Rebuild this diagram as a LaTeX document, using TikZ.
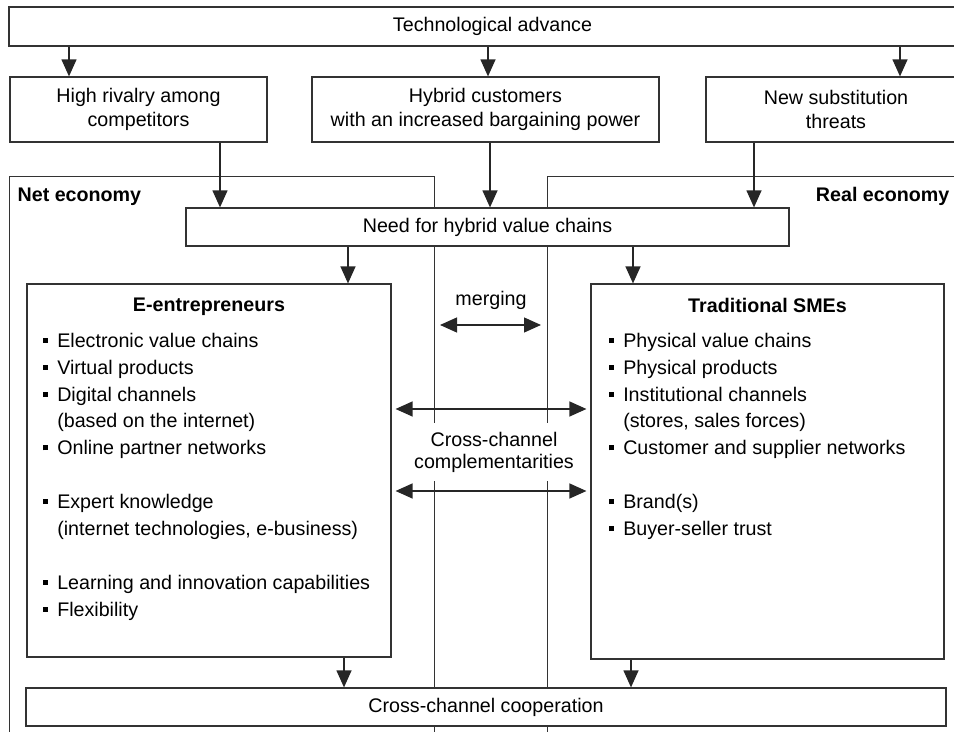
\documentclass[tikz,border=0pt]{standalone}
\usepackage{fontspec}
\setmainfont{Liberation Sans}
\usetikzlibrary{arrows.meta,positioning}

\newcommand{\blt}{\rule[2.5pt]{2.9pt}{2.9pt}\hspace{5.2pt}}
\newcommand{\hang}{\hphantom{\blt}}

\begin{document}
\begin{tikzpicture}[x=0.02cm,y=-0.02cm,line width=0.7pt,
  every node/.style={font=\fontsize{11.2}{13.5}\selectfont},
  box/.style={draw=black!80,fill=white,align=center,inner sep=0pt},
  area/.style={draw=black!80,inner sep=0pt,anchor=north west},
  ttl/.style={font=\fontsize{11.2}{13.5}\selectfont\bfseries,inner sep=0pt},
  lst/.style={align=left,inner sep=0pt,anchor=north west,font=\fontsize{11.2}{15.3}\selectfont},
  arr/.style={draw=black!85,-{Triangle[length=0.34cm,width=0.3cm]}},
  dbl/.style={draw=black!85,{Triangle[length=0.34cm,width=0.3cm]}-{Triangle[length=0.34cm,width=0.3cm]}}]
  \useasboundingbox (0,0) rectangle (954,732);
  \clip (0,0) rectangle (954,732);

  % the two economies
  \node[area,minimum width=8.5cm,minimum height=11.68cm] (net) at (9,176) {};
  \node[area,minimum width=8.67cm,minimum height=11.68cm] (real) at (546.5,176) {};
  \node[ttl,anchor=west] at ([shift={(8,21)}]net.north west) {Net economy};
  \node[ttl,anchor=east] at (950,196) {Real economy};

  % forces
  \node[box,minimum width=19.34cm,minimum height=0.78cm] (tech) at (492.5,26.5) {Technological advance};
  \node[box,minimum width=5.14cm,minimum height=1.3cm] (rival) at (138.5,109.5) {High rivalry among\\competitors};
  \node[box,minimum width=6.94cm,minimum height=1.3cm] (hybrid) at (485.5,109.5) {Hybrid customers\\with an increased bargaining power};
  \node[box,minimum width=5.2cm,minimum height=1.3cm] (threat) at (836,109.5) {New substitution\\threats};
  \node[box,minimum width=12.06cm,minimum height=0.76cm] (need) at (487.5,227) {Need for hybrid value chains};

  % the two kinds of firms
  \node[box,minimum width=7.28cm,minimum height=7.46cm] (eent) at (209,470.5) {};
  \node[ttl,below=0.28cm of eent.north] (eentT) {E-entrepreneurs};
  \node[lst] (eentL) at ([shift={(16,49)}]eent.north west) {%
    \blt Electronic value chains\\
    \blt Virtual products\\
    \blt Digital channels\\
    \hang (based on the internet)\\
    \blt Online partner networks\\[15.3pt]
    \blt Expert knowledge\\
    \hang (internet technologies, e-business)\\[15.3pt]
    \blt Learning and innovation capabilities\\
    \blt Flexibility};

  \node[box,minimum width=7.06cm,minimum height=7.5cm] (trad) at (767.5,471.5) {};
  \node[ttl,below=0.28cm of trad.north] (tradT) {Traditional SMEs};
  \node[lst] (tradL) at ([shift={(18,49)}]trad.north west) {%
    \blt Physical value chains\\
    \blt Physical products\\
    \blt Institutional channels\\
    \hang (stores, sales forces)\\
    \blt Customer and supplier networks\\[15.3pt]
    \blt Brand(s)\\
    \blt Buyer-seller trust};

  \node[box,minimum width=18.4cm,minimum height=0.76cm] (coop) at (486,707) {Cross-channel cooperation};

  % middle
  \node (merge) at (491,300) {merging};
  \node[fill=white,inner sep=5pt,align=center,font=\fontsize{11.2}{12.5}\selectfont] (cross) at (494,452) {Cross-channel\\complementarities};
  \coordinate (mL) at (440,325);
  \coordinate (mR) at (541,325);

  % arrows
  \draw[arr] (tech.south -| 69,0) -- (rival.north -| 69,0);
  \draw[arr] (tech.south -| 488,0) -- (hybrid.north -| 488,0);
  \draw[arr] (tech.south -| 900,0) -- (threat.north -| 900,0);
  \draw[arr] (rival.south -| 220,0) -- (need.north -| 220,0);
  \draw[arr] (hybrid.south -| 490,0) -- (need.north -| 490,0);
  \draw[arr] (threat.south -| 754,0) -- (need.north -| 754,0);
  \draw[arr] (need.south -| 348,0) -- (eent.north -| 348,0);
  \draw[arr] (need.south -| 633,0) -- (trad.north -| 633,0);
  \draw[arr] (eent.south -| 344,0) -- (coop.north -| 344,0);
  \draw[arr] (trad.south -| 631,0) -- (coop.north -| 631,0);
  \draw[dbl] (mL) -- (mR);
  \draw[dbl,shorten <=0.08cm,shorten >=0.08cm] (eent.east |- 0,409) -- (trad.west |- 0,409);
  \draw[dbl,shorten <=0.08cm,shorten >=0.08cm] (eent.east |- 0,491) -- (trad.west |- 0,491);
\end{tikzpicture}
\end{document}
